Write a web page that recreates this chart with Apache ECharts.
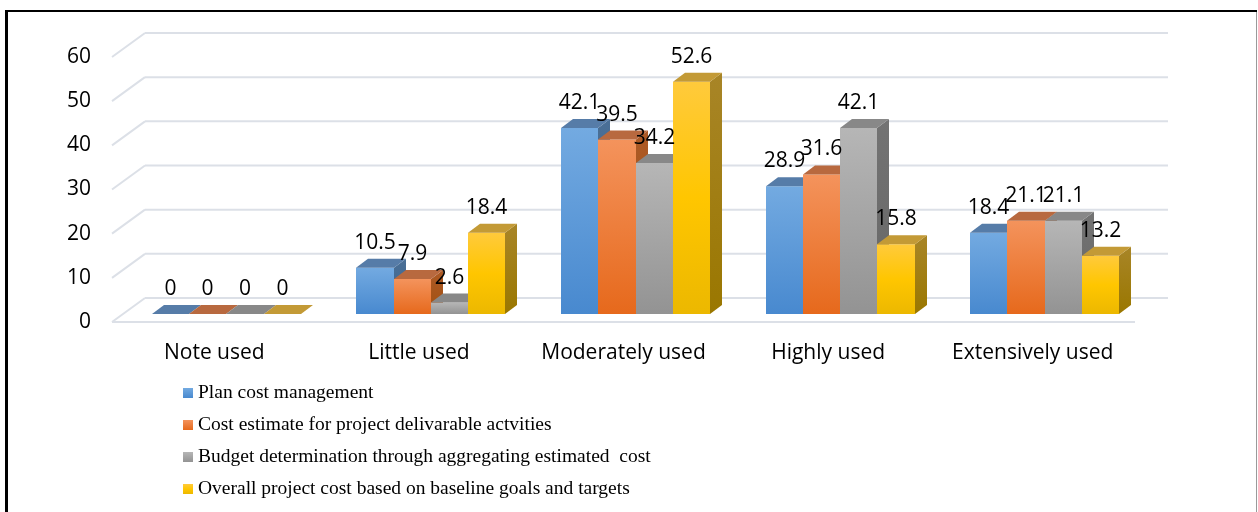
<!DOCTYPE html>
<html>
<head>
<meta charset="utf-8">
<script src="https://cdn.jsdelivr.net/npm/echarts@6/dist/echarts.min.js"></script>
<style>
  html, body { margin: 0; padding: 0; background: #fff; }
  #chart { width: 1258px; height: 512px; }
</style>
</head>
<body>
<div id="chart"></div>
<script>
const categories = ['Note used', 'Little used', 'Moderately used', 'Highly used', 'Extensively used'];
const planCost = [0, 10.5, 42.1, 28.9, 18.4];
const costEstimate = [0, 7.9, 39.5, 31.6, 21.1];
const budgetDetermination = [0, 2.6, 34.2, 42.1, 21.1];
const overallCost = [0, 18.4, 52.6, 15.8, 13.2];
const seriesNames = [
  'Plan cost management',
  'Cost estimate for project delivarable actvities',
  'Budget determination through aggregating estimated  cost',
  'Overall project cost based on baseline goals and targets'
];
const yTicks = [0, 10, 20, 30, 40, 50, 60];

const allValues = [planCost, costEstimate, budgetDetermination, overallCost];

// face colours: front gradient, top face, side gradient
const faces = [
  { front: ['#73aae1', '#4889cf'], top: '#567ca8', side: ['#4a6f96', '#3b6590'] },
  { front: ['#f4935c', '#e6691c'], top: '#b8693f', side: ['#ad5a26', '#a2500f'] },
  { front: ['#b6b6b6', '#939393'], top: '#888888', side: ['#737373', '#666666'] },
  { front: ['#ffca3c', '#ffc600', '#ecb800'], top: '#c39a36', side: ['#a88527', '#9a7700'] }
];

// pseudo 3D offsets (px)
const BAR_W = 37.25;
const SHIFT_X = 12, SHIFT_Y = -8;   // bar front plane vs axis front plane
const DEPTH_X = 12, DEPTH_Y = -9;   // bar depth
const WALL_X = 33, WALL_Y = -24;    // back wall

function grad(colors) {
  const stops = colors.map(function (c, i) {
    return { offset: i / (colors.length - 1), color: c };
  });
  return new echarts.graphic.LinearGradient(0, 0, 0, 1, stops);
}

function barBox(api, cat, val, s) {
  const top = api.coord([cat, val]);
  const base = api.coord([cat, 0]);
  const left = top[0] - BAR_W * 2 + SHIFT_X;
  return {
    x0: Math.round(left + s * BAR_W),
    x1: Math.round(left + (s + 1) * BAR_W),
    y0: top[1] + SHIFT_Y,
    y1: base[1] + SHIFT_Y
  };
}

function barRenderer(s) {
  return function (params, api) {
    const b = barBox(api, api.value(0), api.value(1), s);
    const f = faces[s];
    return {
      type: 'group',
      children: [
        {
          type: 'polygon',
          shape: { points: [[b.x1, b.y0], [b.x1 + DEPTH_X, b.y0 + DEPTH_Y], [b.x1 + DEPTH_X, b.y1 + DEPTH_Y], [b.x1, b.y1]] },
          style: { fill: grad(f.side) }
        },
        {
          type: 'rect',
          shape: { x: b.x0, y: b.y0, width: b.x1 - b.x0, height: b.y1 - b.y0 },
          style: { fill: grad(f.front) }
        },
        {
          type: 'polygon',
          shape: { points: [[b.x0, b.y0], [b.x1, b.y0], [b.x1 + DEPTH_X, b.y0 + DEPTH_Y], [b.x0 + DEPTH_X, b.y0 + DEPTH_Y]] },
          style: { fill: f.top }
        }
      ]
    };
  };
}

const barSeries = allValues.map(function (vals, s) {
  return {
    type: 'custom',
    name: seriesNames[s],
    z: 2,
    itemStyle: { color: grad(faces[s].front) },
    renderItem: barRenderer(s),
    data: vals.map(function (v, i) { return [i, v]; })
  };
});

const labelData = [];
allValues.forEach(function (vals, s) {
  vals.forEach(function (v, i) { labelData.push([i, v, s]); });
});

const chart = echarts.init(document.getElementById('chart'));
chart.setOption({
  animation: false,
  grid: { left: 112, right: 123, top: 57, bottom: 190 },
  xAxis: {
    type: 'category',
    data: categories,
    axisLine: { show: false },
    axisTick: { show: false },
    axisLabel: { interval: 0, hideOverlap: false, margin: 21, fontSize: 21, fontFamily: 'Open Sans', color: '#000' }
  },
  yAxis: {
    type: 'value',
    min: 0,
    max: 60,
    interval: 10,
    splitLine: { show: false },
    axisLabel: { margin: 21, fontSize: 21, fontFamily: 'Open Sans', color: '#000' }
  },
  legend: {
    data: seriesNames,
    orient: 'vertical',
    left: 183,
    top: 382,
    padding: 0,
    icon: 'rect',
    itemWidth: 10,
    itemHeight: 10,
    itemGap: 10,
    itemTextGap: 4,
    selectedMode: false,
    textStyle: { fontFamily: 'Liberation Serif', fontSize: 19.5, lineHeight: 22, color: '#000' }
  },
  graphic: [
    { type: 'rect', shape: { x: 5, y: 10, width: 3, height: 502 }, style: { fill: '#000' } },
    { type: 'rect', shape: { x: 5, y: 10, width: 1252, height: 2 }, style: { fill: '#000' } },
    { type: 'rect', shape: { x: 1256, y: 12, width: 1, height: 500 }, style: { fill: '#9a9a9a' } }
  ],
  series: [
    {
      // wall + floor grid lines
      type: 'custom',
      z: 1,
      silent: true,
      renderItem: function (params, api) {
        const cs = params.coordSys;
        const v = api.value(1);
        const y = api.coord([0, v])[1];
        const lineStyle = { stroke: '#dce0e7', lineWidth: 2 };
        const children = [
          { type: 'line', shape: { x1: cs.x, y1: y, x2: cs.x + WALL_X, y2: y + WALL_Y }, style: lineStyle },
          { type: 'line', shape: { x1: cs.x + WALL_X, y1: y + WALL_Y, x2: cs.x + cs.width + WALL_X, y2: y + WALL_Y }, style: lineStyle }
        ];
        if (v === 0) {
          children.push({ type: 'line', shape: { x1: cs.x, y1: y, x2: cs.x + cs.width, y2: y }, style: lineStyle });
        }
        return { type: 'group', children: children };
      },
      data: yTicks.map(function (t) { return [0, t]; })
    }
  ].concat(barSeries, [
    {
      // value labels above the bars
      type: 'custom',
      z: 5,
      silent: true,
      renderItem: function (params, api) {
        const s = api.value(2);
        const val = api.value(1);
        const b = barBox(api, api.value(0), val, s);
        return {
          type: 'text',
          x: (b.x0 + b.x1) / 2,
          y: b.y0 - 25,
          style: {
            text: String(val),
            fill: '#000',
            fontSize: 21,
            fontFamily: 'Open Sans',
            align: 'center',
            verticalAlign: 'middle'
          }
        };
      },
      data: labelData
    }
  ])
});
</script>
</body>
</html>
